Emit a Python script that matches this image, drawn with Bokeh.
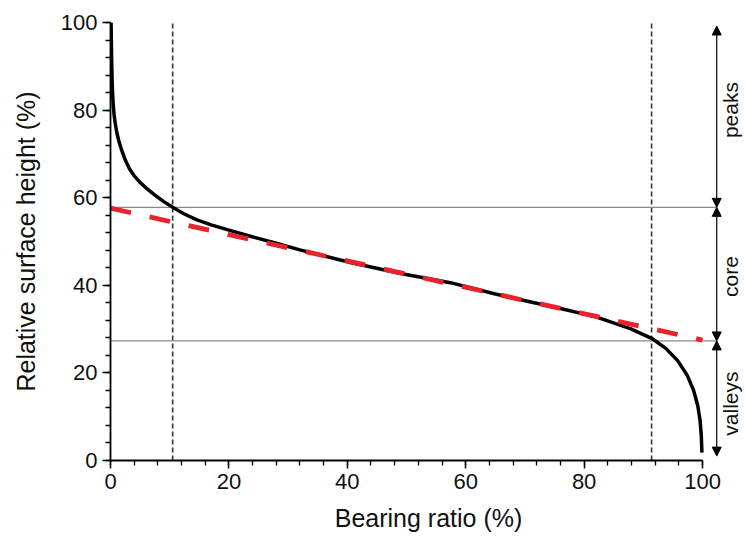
import math
from bokeh.plotting import figure
from bokeh.models import Range1d, SingleIntervalTicker, Label, Arrow, NormalHead
from bokeh.embed import file_html
from bokeh.resources import INLINE

# Abbott-Firestone (bearing area) curve
bearing = [0.1, 0.15, 0.2, 0.27, 0.35, 0.45, 0.6, 0.8, 1.05, 1.4, 1.9, 2.5, 3.2, 4.0,
           5.0, 6.2, 7.5, 9.0, 10.5, 12.3, 14.5, 17, 20, 23.6, 28, 32, 40.5, 49,
           57.4, 65, 71, 76, 82, 87.8, 91.4, 93.8, 95.8, 97.4, 98.5, 99.2, 99.6,
           99.8, 99.9]
height = [100, 95, 91, 87, 84, 81.5, 79, 77, 75, 73, 70.8, 68.6, 66.6, 65,
          63.5, 62, 60.6, 59.1, 57.8, 56.4, 55.0, 53.8, 52.6, 51.2, 49.6, 48.1, 45.2, 42.7,
          40.6, 38.0, 36.2, 34.7, 32.8, 30.1, 27.9, 25.6, 22.8, 19.5, 16, 12.5, 9,
          5.5, 1.8]

# Linear fit of the core region
fit_x = [0, 100]
fit_y = [57.6, 27.5]

# Levels and material ratios
levels = [57.8, 27.3]
mr_x = [10.5, 91.4]

# Zones
zone_names = ["peaks", "core", "valleys"]
zone_bounds = [99.2, 57.8, 27.3, 1.0]
zone_label_y = [80, 42, 13]
arrow_x = 102.4
label_x = 104.8

x_label = "Bearing ratio (%)"
y_label = "Relative surface height (%)"

FONT = "Liberation Sans"

p = figure(width=746, height=538, output_backend="svg", toolbar_location=None,
           x_range=Range1d(0, 107.43), y_range=Range1d(0, 100),
           min_border_left=110, min_border_right=0, min_border_top=22,
           min_border_bottom=78)
p.outline_line_color = None
p.xgrid.visible = False
p.ygrid.visible = False
p.background_fill_color = "white"
p.border_fill_color = "white"

# vertical dashed lines at Mr1, Mr2
p.segment(x0=mr_x, y0=[0] * len(mr_x), x1=mr_x, y1=[100] * len(mr_x),
          line_color="#333333", line_width=1.6, line_dash="5 3")

# horizontal level lines
p.segment(x0=[0] * len(levels), y0=levels, x1=[arrow_x] * len(levels), y1=levels,
          line_color="#8a8a8a", line_width=1.3)

# curve
p.line(bearing, height, line_color="black", line_width=3.5, line_join="round")

# fit line
p.line(fit_x, fit_y, line_color="#e8232b", line_width=4.8, line_dash="21 19")

# arrows
for i in range(len(zone_names)):
    p.add_layout(Arrow(
        start=NormalHead(size=9, fill_color="black", line_color="black", line_width=1),
        end=NormalHead(size=9, fill_color="black", line_color="black", line_width=1),
        x_start=arrow_x, y_start=zone_bounds[i], x_end=arrow_x, y_end=zone_bounds[i + 1],
        line_color="black", line_width=1.2))
    p.add_layout(Label(x=label_x, y=zone_label_y[i], text=zone_names[i], angle=math.pi / 2,
                       text_align="center", text_baseline="middle",
                       text_font=FONT, text_font_size="21px", text_color="#111111"))

for ax in (p.xaxis[0], p.yaxis[0]):
    ax.bounds = (0, 100)
    ax.ticker = SingleIntervalTicker(interval=20, num_minor_ticks=5)
    ax.axis_line_color = "black"
    ax.axis_line_width = 1.8
    ax.major_tick_line_color = "black"
    ax.major_tick_line_width = 1.5
    ax.minor_tick_line_color = "black"
    ax.minor_tick_line_width = 1.3
    ax.major_tick_out = 8
    ax.major_tick_in = 0
    ax.minor_tick_out = 5
    ax.minor_tick_in = 0
    ax.major_label_text_font = FONT
    ax.major_label_text_font_size = "22px"
    ax.major_label_text_color = "#111111"
    ax.axis_label_text_font = FONT
    ax.axis_label_text_font_size = "25px"
    ax.axis_label_text_font_style = "normal"
    ax.axis_label_text_color = "#111111"

p.xaxis.axis_label = x_label
p.yaxis.axis_label = y_label
p.xaxis.major_label_standoff = 5
p.xaxis.axis_label_standoff = 12
p.yaxis.major_label_standoff = 5
p.yaxis.axis_label_standoff = 18

open("out.html", "w").write(file_html(p, INLINE))
